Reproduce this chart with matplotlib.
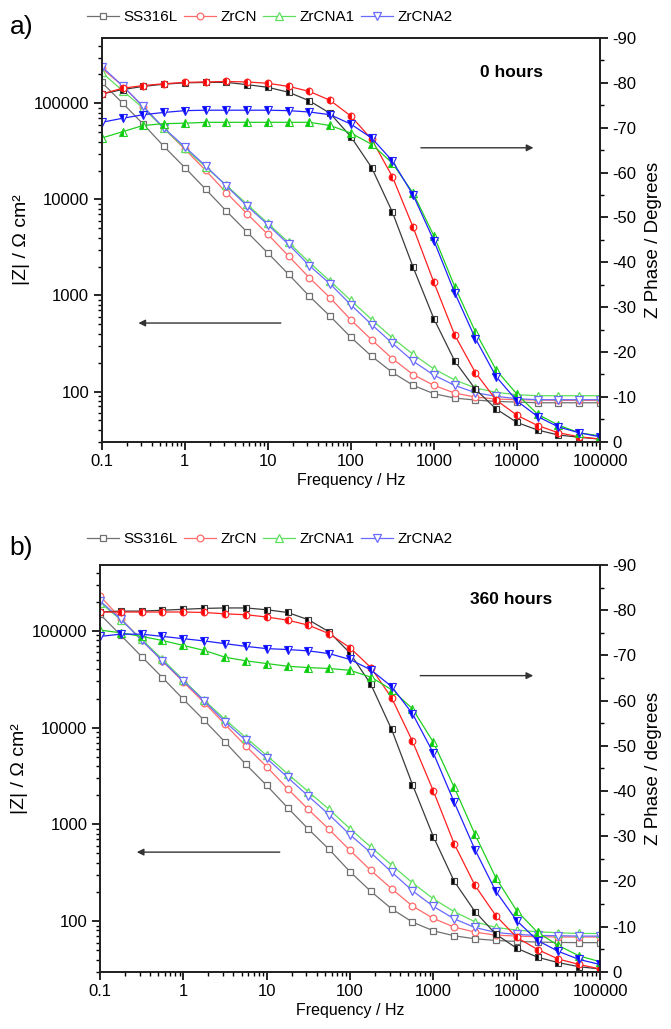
import matplotlib
matplotlib.use("Agg")
import matplotlib.pyplot as plt
from matplotlib import ticker

plt.rcParams['font.family'] = ['Liberation Sans', 'DejaVu Sans']
plt.rcParams['axes.unicode_minus'] = False

samples = ['SS316L', 'ZrCN', 'ZrCNA1', 'ZrCNA2']
markers = ['s', 'o', '^', 'v']
msizes = [4.3, 4.8, 5.3, 5.3]
z_colors = ['#707070', '#ff6a6a', '#5ee05e', '#6a6aff']
ph_colors = ['#3a3a3a', '#ff2020', '#20d020', '#2020ff']
ph_fill = ['black', 'red', '#00cc00', 'blue']

freq = [0.1, 0.178, 0.316, 0.562, 1, 1.78, 3.16, 5.62, 10, 17.8, 31.6, 56.2,
        100, 178, 316, 562, 1000, 1780, 3160, 5620, 10000, 17800, 31600, 56200, 100000]

# 0 hours, |Z| (ohm cm2)
ss_z_0h = [165600, 100800, 60800, 35600, 21500, 12800, 7590, 4580, 2770, 1660, 984, 609,
           367, 233, 158, 116, 94.9, 85.5, 81.5, 78.9, 77.6, 76.4, 76.4, 76.4, 76.4]
zrcn_z_0h = [231700, 152800, 92300, 54800, 33400, 20100, 11800, 7110, 4330, 2570, 1530, 946,
             557, 345, 220, 150, 116, 96.4, 87.6, 83.5, 82.2, 81.5, 80.9, 80.9, 80.9]
zrcna1_z_0h = [210600, 135600, 89400, 54800, 34200, 21800, 14060, 8910, 5640, 3570, 2210, 1410,
               887, 562, 362, 244, 172, 132, 109, 98.0, 92.7, 90.5, 90.5, 90.5, 90.5]
zrcna2_z_0h = [241400, 152800, 93000, 55300, 35300, 22400, 13840, 8560, 5460, 3400, 2050, 1320,
               800, 498, 318, 207, 148, 116, 97.2, 89.1, 84.2, 82.2, 82.2, 82.2, 82.2]

# 0 hours, phase (degrees)
ss_ph_0h = [-77.5, -78.5, -79.2, -79.7, -80.0, -80.1, -80.1, -79.6, -79.0, -77.9, -76.0, -73.2,
            -68.0, -61.1, -51.2, -38.9, -27.4, -18.0, -11.7, -7.3, -4.3, -2.6, -1.5, -1.0, -0.6]
zrcn_ph_0h = [-77.5, -78.8, -79.4, -79.8, -80.1, -80.2, -80.3, -80.2, -79.9, -79.2, -78.1, -76.1,
              -72.6, -67.4, -59.1, -47.8, -35.5, -23.8, -15.4, -9.3, -5.9, -3.6, -2.0, -1.1, -0.6]
zrcna1_ph_0h = [-67.7, -69.1, -70.5, -70.9, -71.0, -71.2, -71.2, -71.2, -71.2, -71.2, -71.2, -70.5,
                -68.8, -66.3, -62.1, -55.4, -45.9, -34.6, -24.5, -16.0, -10.6, -6.1, -3.7, -2.0, -1.3]
zrcna2_ph_0h = [-71.2, -72.1, -72.9, -73.4, -73.8, -73.9, -73.9, -73.9, -73.9, -73.8, -73.5, -72.9,
                -70.8, -67.7, -62.6, -55.0, -44.8, -33.2, -23.0, -14.5, -9.1, -5.6, -3.3, -2.0, -1.1]

# 360 hours, |Z| (ohm cm2)
ss_z_360h = [148700, 90200, 54300, 32900, 19640, 11910, 7110, 4180, 2530, 1490, 895, 551,
             324, 203, 134, 97.7, 79.4, 70.5, 65.6, 63.1, 61.6, 60.7, 60.2, 59.9, 59.9]
zrcn_z_360h = [230200, 134200, 80100, 48900, 29700, 18130, 10830, 6460, 3950, 2340, 1430, 887,
               538, 334, 216, 143, 106.6, 86.7, 77.0, 71.6, 70.0, 68.9, 68.5, 68.5, 68.5]
zrcna1_z_360h = [196400, 130000, 82000, 50900, 31100, 19170, 12200, 7880, 5170, 3340, 2180, 1430,
                 902, 583, 380, 249, 170, 125, 98.4, 86.0, 80.7, 77.6, 75.7, 74.5, 74.5]
zrcna2_z_360h = [204300, 132100, 80100, 48900, 30400, 18880, 11530, 7390, 4820, 3070, 1960, 1260,
                 782, 509, 321, 206, 142, 105.6, 86.0, 76.3, 72.8, 71.1, 70.6, 70.0, 70.0]

# 360 hours, phase (degrees)
ss_ph_360h = [-79.6, -79.8, -79.8, -80.0, -80.2, -80.4, -80.5, -80.5, -80.1, -79.5, -77.9, -75.2,
              -70.5, -63.6, -53.6, -41.4, -29.9, -20.0, -13.3, -8.3, -5.2, -3.2, -2.0, -1.1, -0.6]
zrcn_ph_360h = [-79.6, -79.6, -79.6, -79.6, -79.6, -79.5, -79.2, -79.0, -78.5, -77.8, -76.7, -74.8,
                -71.7, -67.3, -60.6, -51.0, -40.0, -28.3, -19.1, -12.4, -7.6, -4.9, -2.8, -1.6, -0.6]
zrcna1_ph_360h = [-75.6, -75.0, -74.2, -73.3, -72.2, -71.1, -69.6, -68.8, -68.2, -67.6, -67.3, -67.1,
                  -66.7, -65.2, -62.4, -58.2, -50.8, -40.8, -30.4, -20.8, -13.5, -8.7, -5.8, -3.5, -2.2]
zrcna2_ph_360h = [-74.2, -74.7, -74.7, -74.2, -73.7, -73.2, -72.6, -72.0, -71.5, -71.3, -71.0, -70.4,
                  -69.1, -66.8, -63.1, -57.1, -48.4, -37.5, -27.0, -17.8, -11.3, -6.9, -4.5, -2.7, -1.6]


def draw_panel(ax, zmods, phases, hours_text, phase_label, tag, tag_y, legend_y):
    ax2 = ax.twinx()
    for i in range(4):
        ax.plot(freq, zmods[i], color=z_colors[i], lw=0.9, marker=markers[i], ms=msizes[i],
                mfc='white', mec=z_colors[i], mew=0.9)
        ax2.plot(freq, phases[i], color=ph_colors[i], lw=0.9, marker=markers[i], ms=msizes[i],
                 fillstyle='left', mfc=ph_fill[i], mfcalt='white', mec=ph_colors[i], mew=0.8)

    ax.set_xscale('log')
    ax.set_yscale('log')
    ax.set_xlim(0.1, 100000)
    ax.set_ylim(30, 480000)
    ax2.set_ylim(0, -90)
    ax2.yaxis.set_major_locator(ticker.MultipleLocator(10))
    ax2.yaxis.set_minor_locator(ticker.MultipleLocator(5))

    fmt = ticker.FuncFormatter(lambda v, _: f'{v:g}')
    ax.xaxis.set_major_formatter(fmt)
    ax.yaxis.set_major_formatter(fmt)
    ax.xaxis.set_minor_formatter(ticker.NullFormatter())
    ax.yaxis.set_minor_formatter(ticker.NullFormatter())
    ax.xaxis.set_minor_locator(ticker.LogLocator(subs=range(2, 10)))
    ax.yaxis.set_minor_locator(ticker.LogLocator(subs=range(2, 10)))

    for a in (ax, ax2):
        for s in a.spines.values():
            s.set_linewidth(1.3)
            s.set_color('#222222')
        a.tick_params(which='major', direction='out', length=6, width=1.2, labelsize=12, pad=3)
        a.tick_params(which='minor', direction='out', length=3, width=1.0)
    ax.tick_params(axis='x', which='both', top=False)
    ax.tick_params(axis='y', which='both', right=False)

    ax.set_xlabel('Frequency / Hz', fontsize=11.5, labelpad=3)
    ax.set_ylabel('|Z| / Ω cm²', fontsize=14, labelpad=3)
    ax2.set_ylabel(phase_label, fontsize=13.5, labelpad=6)

    ax.text(0.823, 0.915, hours_text, transform=ax.transAxes, ha='center', va='center',
            fontsize=12.5, fontweight='bold')
    ax.annotate('', xy=(0.872, 0.728), xytext=(0.635, 0.728), xycoords='axes fraction',
                arrowprops=dict(arrowstyle='-|>', color='#333333', lw=1.0, mutation_scale=10))
    ax.annotate('', xy=(0.068, 0.294), xytext=(0.365, 0.294), xycoords='axes fraction',
                arrowprops=dict(arrowstyle='-|>', color='#333333', lw=1.0, mutation_scale=10))

    fig.text(0.014, tag_y, tag, fontsize=19, ha='left', va='center')

    handles = [plt.Line2D([], [], color=z_colors[i], lw=0.9, marker=markers[i], ms=msizes[i],
                          mfc='white', mec=z_colors[i], mew=0.9) for i in range(4)]
    fig.legend(handles, samples, loc='center', bbox_to_anchor=(0.402, legend_y), ncol=4,
               frameon=False, fontsize=11, handlelength=2.1, handletextpad=0.3,
               columnspacing=0.4, borderpad=0.1)


fig = plt.figure(figsize=(6.71, 10.29), dpi=100)
ax_top = fig.add_axes([0.1516, 0.5707, 0.7426, 0.3924])
ax_bot = fig.add_axes([0.1490, 0.0557, 0.7452, 0.3952])

draw_panel(ax_top, [ss_z_0h, zrcn_z_0h, zrcna1_z_0h, zrcna2_z_0h],
           [ss_ph_0h, zrcn_ph_0h, zrcna1_ph_0h, zrcna2_ph_0h],
           '0 hours', 'Z Phase / Degrees', 'a)', 0.974, 0.983)
draw_panel(ax_bot, [ss_z_360h, zrcn_z_360h, zrcna1_z_360h, zrcna2_z_360h],
           [ss_ph_360h, zrcn_ph_360h, zrcna1_ph_360h, zrcna2_ph_360h],
           '360 hours', 'Z Phase / degrees', 'b)', 0.467, 0.476)

fig.savefig('out.png', dpi=100)
